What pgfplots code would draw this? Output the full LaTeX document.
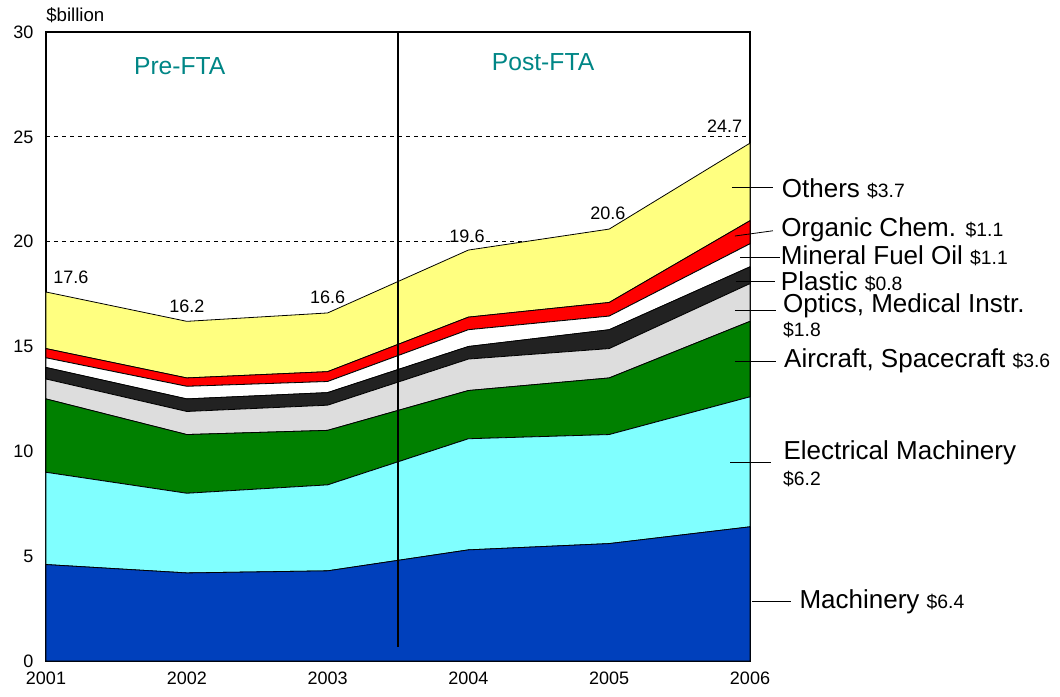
\documentclass[border=0pt]{standalone}
\usepackage{fontspec}
\setmainfont{Liberation Sans}
\usepackage{pgfplots}
\pgfplotsset{compat=1.18}
\usepackage{pgfplotstable}

\definecolor{cMach}{RGB}{0,64,188}
\definecolor{cElec}{RGB}{128,255,255}
\definecolor{cAir}{RGB}{0,128,0}
\definecolor{cOpt}{RGB}{221,221,221}
\definecolor{cPla}{RGB}{34,34,34}
\definecolor{cFuel}{RGB}{255,255,255}
\definecolor{cChem}{RGB}{255,0,0}
\definecolor{cOth}{RGB}{255,255,128}
\definecolor{cTeal}{RGB}{0,134,134}

% individual series values ($billion)
\pgfplotstableread{
year  mach elec air  opt  pla  fuel chem oth
2001  4.6  4.4  3.5  0.95 0.55 0.46 0.44 2.7
2002  4.2  3.8  2.8  1.1  0.6  0.6  0.4  2.7
2003  4.3  4.1  2.6  1.2  0.6  0.53 0.47 2.8
2004  5.3  5.3  2.3  1.5  0.6  0.8  0.6  3.2
2005  5.6  5.2  2.7  1.4  0.9  0.65 0.65 3.5
2006  6.4  6.2  3.6  1.8  0.8  1.1  1.1  3.7
}\datatable

\newcommand{\sm}[1]{{\fontsize{14.5}{17}\selectfont #1}}
\newcommand{\vl}[1]{{\fontsize{13.5}{16}\selectfont #1}}

\begin{document}
\begin{tikzpicture}[lab/.style={anchor=base west, inner sep=0pt, font=\fontsize{19.5}{22}\selectfont}]
\begin{axis}[
  scale only axis,
  width=528pt, height=471.75pt,
  xmin=2001, xmax=2006,
  ymin=0, ymax=30,
  xtick={2001,2002,2003,2004,2005,2006},
  ytick={0,5,10,15,20,25,30},
  major tick length=0pt,
  ymajorgrids,
  grid style={dashed, black, line width=0.5pt},
  axis line style={black, line width=0.8pt},
  stack plots=y,
  clip=false,
  tick label style={font=\fontsize{13.5}{16}\selectfont, /pgf/number format/assume math mode=true},
  xticklabel style={/pgf/number format/1000 sep={}, yshift=-5pt},
  yticklabel style={xshift=-6pt},
  every axis plot/.append style={draw=black, line width=0.6pt},
]
\addplot[fill=cMach] table[x=year, y=mach]{\datatable} \closedcycle;
\addplot[fill=cElec] table[x=year, y=elec]{\datatable} \closedcycle;
\addplot[fill=cAir]  table[x=year, y=air]{\datatable} \closedcycle;
\addplot[fill=cOpt]  table[x=year, y=opt]{\datatable} \closedcycle;
\addplot[fill=cPla]  table[x=year, y=pla]{\datatable} \closedcycle;
\addplot[fill=cFuel] table[x=year, y=fuel]{\datatable} \closedcycle;
\addplot[fill=cChem] table[x=year, y=chem]{\datatable} \closedcycle;
\addplot[fill=cOth]  table[x=year, y=oth]{\datatable} \closedcycle;

% coordinates for lines drawn on top (after the axis)
\coordinate (vt) at (axis cs:2003.5,30);
\coordinate (vb) at (axis cs:2003.5,0.65);
\coordinate (l1a) at (axis cs:2005.872,22.59); \coordinate (l1b) at (axis cs:2006.163,22.59);
\coordinate (l2a) at (axis cs:2005.893,20.27); \coordinate (l2b) at (axis cs:2006.163,20.52);
\coordinate (l3a) at (axis cs:2005.929,19.24); \coordinate (l3b) at (axis cs:2006.213,19.24);
\coordinate (l4a) at (axis cs:2005.898,18.09); \coordinate (l4b) at (axis cs:2006.178,18.09);
\coordinate (l5a) at (axis cs:2005.893,16.74); \coordinate (l5b) at (axis cs:2006.185,16.74);
\coordinate (l6a) at (axis cs:2005.893,14.31); \coordinate (l6b) at (axis cs:2006.185,14.31);
\coordinate (l7a) at (axis cs:2005.858,9.49);  \coordinate (l7b) at (axis cs:2006.149,9.49);
\coordinate (l8a) at (axis cs:2006.014,2.83);  \coordinate (l8b) at (axis cs:2006.291,2.83);

% period labels
\node[anchor=base, text=cTeal, inner sep=0pt] at (axis cs:2001.95,27.99) {{\fontsize{18.5}{21}\selectfont Pre-FTA}};
\node[anchor=base, text=cTeal, inner sep=0pt] at (axis cs:2004.53,28.15) {{\fontsize{18.5}{21}\selectfont Post-FTA}};

% unit label
\node[anchor=base west, inner sep=0pt] at (axis cs:2001,30.49) {{\fontsize{14}{16}\selectfont \$billion}};

% totals
\node[anchor=base, inner sep=0pt] at (axis cs:2001.176,18.0) {\vl{17.6}};
\node[anchor=base, inner sep=0pt] at (axis cs:2002.0,16.63) {\vl{16.2}};
\node[anchor=base, inner sep=0pt] at (axis cs:2003.0,17.03) {\vl{16.6}};
\node[anchor=base, inner sep=0pt] at (axis cs:2003.99,19.98) {\vl{19.6}};
\node[anchor=base, inner sep=0pt] at (axis cs:2004.99,21.08) {\vl{20.6}};
\node[anchor=base, inner sep=0pt] at (axis cs:2005.82,25.2) {\vl{24.7}};

% series labels
\node[lab] at (axis cs:2006.225,22.13) {Others \sm{\$3.7}};
\node[lab] at (axis cs:2006.22,20.27) {Organic Chem. \sm{\$1.1}};
\node[lab] at (axis cs:2006.218,18.89) {Mineral Fuel Oil \sm{\$1.1}};
\node[lab] at (axis cs:2006.218,17.69) {Plastic \sm{\$0.8}};
\node[lab] at (axis cs:2006.234,16.61) {Optics, Medical Instr.};
\node[lab] at (axis cs:2006.234,15.47) {\sm{\$1.8}};
\node[lab] at (axis cs:2006.241,14.01) {Aircraft, Spacecraft \sm{\$3.6}};
\node[lab] at (axis cs:2006.236,9.63) {Electrical Machinery};
\node[lab] at (axis cs:2006.234,8.39) {\sm{\$6.2}};
\node[lab] at (axis cs:2006.35,2.51) {Machinery \sm{\$6.4}};
\end{axis}
% FTA divider and leader lines on top of the areas
\draw[black, line width=0.8pt] (vt) -- (vb);
\foreach \i in {1,...,8} {\draw[black, line width=0.6pt] (l\i a) -- (l\i b);}
\pgfresetboundingbox
\path[use as bounding box] ([shift={(-34.5pt,-26.25pt)}]current axis.south west) rectangle ([shift={(232.5pt,24pt)}]current axis.north east);
\end{tikzpicture}
\end{document}
